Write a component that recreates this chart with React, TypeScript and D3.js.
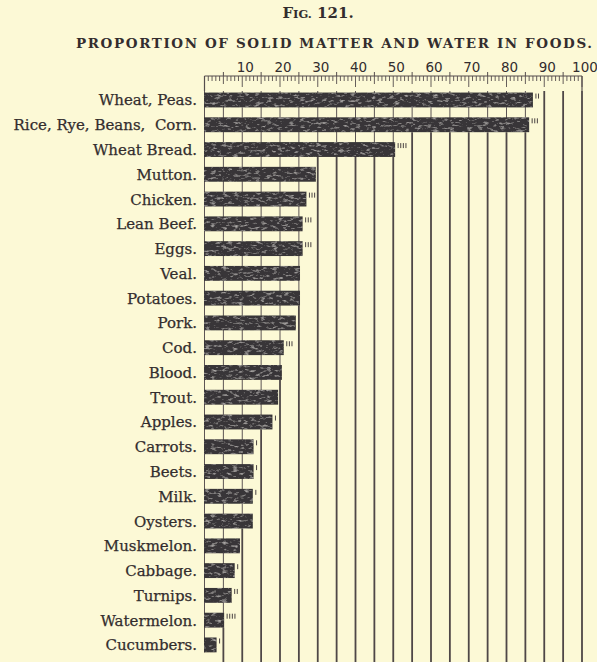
import React from "react";
import * as d3 from "d3";

// Foods, ordered by their share of solid matter
const categories = [
  "Wheat, Peas.",
  "Rice, Rye, Beans,  Corn.",
  "Wheat Bread.",
  "Mutton.",
  "Chicken.",
  "Lean Beef.",
  "Eggs.",
  "Veal.",
  "Potatoes.",
  "Pork.",
  "Cod.",
  "Blood.",
  "Trout.",
  "Apples.",
  "Carrots.",
  "Beets.",
  "Milk.",
  "Oysters.",
  "Muskmelon.",
  "Cabbage.",
  "Turnips.",
  "Watermelon.",
  "Cucumbers.",
];

// Solid matter, per cent
const solids = [
  87, 86, 50.5, 29.5, 27, 26, 26, 25.3, 25.3, 24.2, 21, 20.5, 19.5, 18, 13, 13,
  12.8, 12.8, 9.4, 8, 7.2, 5.2, 3.2,
];

// Little tally strokes set just past the end of each bar (fractions)
const fractionMarks = [2, 3, 4, 0, 3, 3, 3, 0, 0, 0, 3, 0, 0, 1, 1, 1, 1, 0, 0, 1, 2, 4, 1];

const tickLabels = [10, 20, 30, 40, 50, 60, 70, 80, 90, 100];

const W = 597;
const H = 662;
const PAPER = "#fcf9d6";
const INK = "#332d2e";

export default function App() {
  const x = d3.scaleLinear().domain([0, 100]).range([204.5, 582]);
  const y = d3
    .scaleBand<string>()
    .domain(categories)
    .range([87.6, 657.3])
    .paddingInner(0.4)
    .paddingOuter(0.2);
  const bw = y.bandwidth();

  const rulerTop = 76;
  const rulerBottom = 91;

  const units = d3.range(0, 101);
  const fives = d3.range(0, 101, 5);

  // vertical rules every 5 units: faint behind the bars, heavy below the last bar reaching them
  const rules = fives.map((p) => {
    let last = -1;
    solids.forEach((v, i) => {
      if (v > p) last = i;
    });
    const split = last >= 0 ? (y(categories[last]) as number) + bw : rulerBottom;
    return { p, split };
  });

  return (
    <svg
      width={W}
      height={H}
      viewBox={`0 0 ${W} ${H}`}
      style={{ position: "absolute", left: 0, top: 0, display: "block" }}
    >
      <defs>
        <filter id="mottle" x="0" y="0" width="1" height="1">
          <feTurbulence type="fractalNoise" baseFrequency="0.18 0.4" numOctaves="3" seed="7" result="noise" />
          <feColorMatrix
            in="noise"
            type="matrix"
            values="0 0 0 0 0.5  0 0 0 0 0.48  0 0 0 0 0.47  2.4 0 0 0 -1.3"
            result="speck"
          />
          <feComposite in="speck" in2="SourceGraphic" operator="in" result="clipped" />
          <feMerge>
            <feMergeNode in="SourceGraphic" />
            <feMergeNode in="clipped" />
          </feMerge>
        </filter>
      </defs>
      <rect x={0} y={0} width={W} height={H} fill={PAPER} />

      {/* titles */}
      <text
        x={318}
        y={18}
        textAnchor="middle"
        fill={INK}
        style={{ fontFamily: "'DejaVu Serif', serif", fontSize: 15, fontWeight: 600 }}
      >
        F<tspan style={{ fontSize: 11.5 }}>IG.</tspan> 121.
      </text>
      <text
        x={76}
        y={48}
        fill={INK}
        textLength={516}
        lengthAdjust="spacing"
        style={{ fontFamily: "'DejaVu Serif', serif", fontSize: 13.5, fontWeight: 600 }}
      >
        PROPORTION OF SOLID MATTER AND WATER IN FOODS.
      </text>

      {/* scale numbers */}
      {tickLabels.map((t) => (
        <text
          key={t}
          x={x(t) + 3}
          y={72}
          textAnchor="middle"
          fill={INK}
          style={{ fontFamily: "'DejaVu Sans', sans-serif", fontSize: 13.5 }}
        >
          {t}
        </text>
      ))}

      {/* ruler */}
      <g stroke="#554d4d" fill="none">
        <line x1={x(0)} x2={x(100)} y1={rulerTop} y2={rulerTop} strokeWidth={1.2} />
        <line x1={x(0)} x2={x(0)} y1={rulerTop} y2={rulerBottom} strokeWidth={1.2} />
        <line x1={x(100)} x2={x(100)} y1={rulerTop} y2={rulerBottom} strokeWidth={1.2} />
        {units.map((u) => (
          <line
            key={u}
            x1={x(u)}
            x2={x(u)}
            y1={rulerTop}
            y2={rulerTop + (u % 10 === 0 ? 11 : u % 5 === 0 ? 8 : 5)}
            strokeWidth={0.9}
          />
        ))}
        {fives
          .filter((f) => f % 10 === 5)
          .map((f) => (
            <line key={f} x1={x(f)} x2={x(f)} y1={rulerTop - 4} y2={rulerTop} strokeWidth={1} />
          ))}
      </g>

      {/* faint rules between the bars */}
      <g stroke="#5c5454" strokeWidth={1}>
        {rules.map((r) => (
          <line key={r.p} x1={x(r.p)} x2={x(r.p)} y1={rulerBottom} y2={r.split} />
        ))}
      </g>

      {/* heavy rules */}
      <g stroke="#4e4747" strokeWidth={1.8}>
        {rules
          .filter((r) => r.p > 0)
          .map((r) => (
            <line key={r.p} x1={x(r.p)} x2={x(r.p)} y1={r.split} y2={H} />
          ))}
      </g>

      {/* bars */}
      <g>
        {categories.map((c, i) => (
          <rect
            key={c}
            x={x(0) - 0.5}
            y={y(c)}
            width={x(solids[i]) - x(0) + 0.5}
            height={bw}
            fill="#393637"
            filter="url(#mottle)"
          />
        ))}
      </g>

      {/* fraction tallies */}
      <g stroke="#4a4343" strokeWidth={1}>
        {categories.map((c, i) =>
          d3.range(fractionMarks[i]).map((j) => (
            <line
              key={`${c}-${j}`}
              x1={x(solids[i]) + 3 + j * 2.6}
              x2={x(solids[i]) + 3 + j * 2.6}
              y1={(y(c) as number) + 1}
              y2={(y(c) as number) + 6}
            />
          ))
        )}
      </g>

      {/* food names */}
      {categories.map((c) => (
        <text
          key={c}
          x={197}
          y={(y(c) as number) + bw / 2 + 5.5}
          textAnchor="end"
          fill={INK}
          stroke={INK}
          strokeWidth={0.25}
          style={{ fontFamily: "'DejaVu Serif', serif", fontSize: 15, whiteSpace: "pre" }}
        >
          {c}
        </text>
      ))}
    </svg>
  );
}
